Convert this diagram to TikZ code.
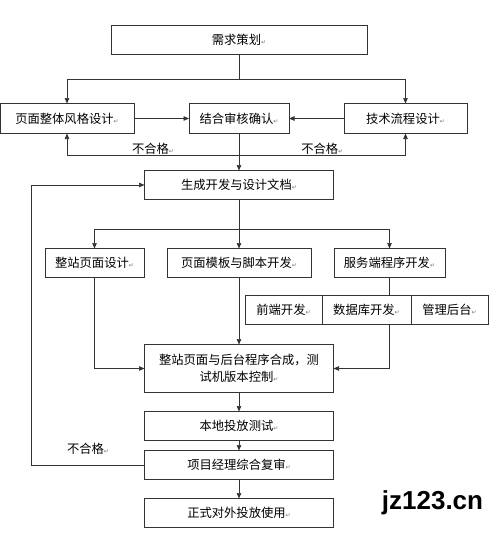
\documentclass[tikz,border=0pt]{standalone}
\usepackage{fontspec}
\setmainfont{Noto Sans CJK SC}
\newfontfamily\symfont{DejaVu Sans}
\newfontfamily\wmfont{Liberation Sans}
\usetikzlibrary{arrows.meta,positioning}
\newcommand\pmark{{\symfont\fontsize{6}{6}\selectfont\textcolor{black!55}{↵}}}
\tikzset{
  box/.style={rectangle, draw=black!80, line width=0.6pt, minimum height=29pt, inner sep=2pt, outer sep=0pt, align=center, font=\fontsize{12.3}{17}\selectfont},
  arr/.style={-{Triangle[length=5.5pt,width=4.5pt]}, draw=black!80, line width=0.6pt},
  line/.style={draw=black!80, line width=0.6pt},
  lbl/.style={font=\fontsize{12.3}{14}\selectfont, inner sep=1pt}
}
\begin{document}
\begin{tikzpicture}[x=1pt, y=1pt]
\useasboundingbox (0,0) rectangle (500,-539);
\node[box, minimum width=256pt] (plan) at (239,-40) {需求策划\pmark};
\node[box, minimum width=100pt, minimum height=30pt, below=49pt of plan] (review) {结合审核确认\pmark};
\node[box, minimum width=134pt, minimum height=30pt, left=55pt of review] (style) {页面整体风格设计\pmark};
\node[box, minimum width=123pt, minimum height=30pt, right=55pt of review] (tech) {技术流程设计\pmark};
\node[box, minimum width=189pt, below=37pt of review] (docs) {生成开发与设计文档\pmark};

\node[box, minimum width=144pt, below=49pt of docs] (tmpl) {页面模板与脚本开发\pmark};
\node[box, minimum width=99pt, left=23pt of tmpl] (page) {整站页面设计\pmark};
\node[box, minimum width=111pt, right=23pt of tmpl] (server) {服务端程序开发\pmark};
\node[box, minimum width=89pt, below=18pt of server, xshift=-23pt] (db) {数据库开发\pmark};
\node[box, minimum width=77pt, left=0pt of db] (front) {前端开发\pmark};
\node[box, minimum width=77pt, right=0pt of db] (admin) {管理后台\pmark};

\node[box, minimum width=189pt, minimum height=48pt, below=67pt of tmpl] (merge) {整站页面与后台程序合成，测\\试机版本控制\pmark};
\node[box, minimum width=189pt, below=19pt of merge] (local) {本地投放测试\pmark};
\node[box, minimum width=189pt, below=10pt of local] (pm) {项目经理综合复审\pmark};
\node[box, minimum width=189pt, below=19pt of pm] (release) {正式对外投放使用\pmark};

\node[font=\wmfont\bfseries\fontsize{26}{26}\selectfont, inner sep=0pt] (wm) at (432.5,-503) {jz123.cn};

% planning -> design branches
\draw[line] (plan.south) -- ++(0,-25) coordinate (s1);
\draw[arr] (s1) -| (style.north);
\draw[arr] (s1) -| (tech.north);
\draw[arr] (style) -- (review);
\draw[arr] (tech) -- (review);
\draw[arr] (review) -- (docs);
\draw[line] (review.south) ++(0,-22) coordinate (f1);
\draw[arr] (f1) -| (style.south) node[lbl, above, pos=0.25] {不合格\pmark};
\draw[arr] (f1) -| (tech.south) node[lbl, above, pos=0.25] {不合格\pmark};

% development
\draw[line] (docs.south) -- ++(0,-30) coordinate (s2);
\draw[arr] (s2) -| (page.north);
\draw[arr] (s2) -| (server.north);
\draw[arr] (s2) -- (tmpl.north);
\draw[line] (server.south) -- (server.south |- db.north);
\draw[arr] (page.south) |- (merge.west);
\draw[arr] (tmpl) -- (merge);
\draw[arr] (server.south |- db.south) |- (merge.east);

% testing and release
\draw[arr] (merge) -- (local);
\draw[arr] (local) -- (pm);
\draw[arr] (pm) -- (release);
\draw[arr] (pm.west) -- ++(-113,0) node[lbl, above=9pt, pos=0.5] {不合格\pmark} |- (docs.west);
\end{tikzpicture}
\end{document}
